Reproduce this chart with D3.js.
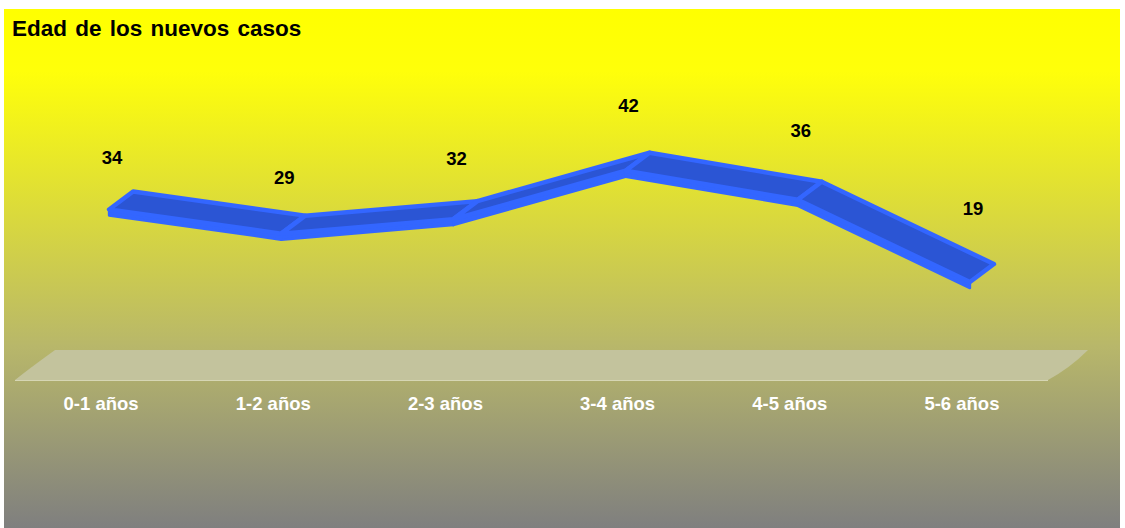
<!DOCTYPE html>
<html>
<head>
<meta charset="utf-8">
<script src="https://cdn.jsdelivr.net/npm/d3@7"></script>
<style>
  body { margin: 0; background: #fff; }
  svg { display: block; font-family: "Liberation Sans", Arial, sans-serif; }
</style>
</head>
<body>
<svg></svg>
<script>
const width = 1125;
const height = 528;

const title = "Edad de los nuevos casos";
const categories = ["0-1 años", "1-2 años", "2-3 años", "3-4 años", "4-5 años", "5-6 años"];
const values = [34, 29, 32, 42, 36, 19];

const svg = d3.select("svg")
  .attr("width", width)
  .attr("height", height);

// background gradient
const defs = svg.append("defs");
const grad = defs.append("linearGradient")
  .attr("id", "bg")
  .attr("x1", 0).attr("y1", 0).attr("x2", 0).attr("y2", 1);
grad.append("stop").attr("offset", 0).attr("stop-color", "#ffff00");
grad.append("stop").attr("offset", 0.12).attr("stop-color", "#ffff0a");
grad.append("stop").attr("offset", 0.65).attr("stop-color", "#b8b76a");
grad.append("stop").attr("offset", 1).attr("stop-color", "#7f7f7f");

svg.append("rect")
  .attr("x", 4).attr("y", 9)
  .attr("width", 1116).attr("height", 519)
  .attr("fill", "url(#bg)");

svg.append("text")
  .attr("x", 12).attr("y", 36)
  .attr("font-size", 22.5)
  .attr("font-weight", "bold")
  .attr("word-spacing", 2)
  .attr("fill", "#000")
  .text(title);

// 3D geometry
const floorY = 380;
const depth = [40, -30]; // full depth offset of the floor

const x = d3.scaleBand()
  .domain(categories)
  .range([15, 1048]);

const y = d3.scaleLinear()
  .domain([0, 50])
  .range([floorY, floorY - 242]);

// floor
const floor = d3.path();
floor.moveTo(15, floorY);
floor.lineTo(1048, floorY);
floor.quadraticCurveTo(1070, floorY - 12, 1088, floorY + depth[1]);
floor.lineTo(15 + depth[0], floorY + depth[1]);
floor.quadraticCurveTo(30, floorY - 12, 15, floorY);
floor.closePath();

svg.append("path")
  .attr("d", floor.toString())
  .attr("fill", "#c3c39d");

svg.append("line")
  .attr("x1", 15).attr("x2", 1048)
  .attr("y1", floorY + 0.5).attr("y2", floorY + 0.5)
  .attr("stroke", "#d6d6b4")
  .attr("stroke-width", 1);

// ribbon
const d0 = 0.2, d1 = 0.8;
const cx = c => x(c) + x.bandwidth() / 2;
const pts = values.map((v, i) => {
  const px = cx(categories[i]);
  const py = y(v);
  return {
    fx: px + depth[0] * d0, fy: py + depth[1] * d0,
    bx: px + depth[0] * d1, by: py + depth[1] * d1
  };
});

const thick = 6;
const ribbon = svg.append("g");
d3.pairs(pts).forEach(([a, b]) => {
  ribbon.append("path")
    .attr("d", `M${a.fx},${a.fy}L${b.fx},${b.fy}L${b.fx},${b.fy + thick}L${a.fx},${a.fy + thick}Z`)
    .attr("fill", "#3366ff")
    .attr("stroke", "#3366ff")
    .attr("stroke-width", 2.5)
    .attr("stroke-linejoin", "round");
  ribbon.append("path")
    .attr("d", `M${a.fx},${a.fy}L${b.fx},${b.fy}L${b.bx},${b.by}L${a.bx},${a.by}Z`)
    .attr("fill", "#2b55d4")
    .attr("stroke", "#3366ff")
    .attr("stroke-width", 4.5)
    .attr("stroke-linejoin", "round");
});

// data labels
svg.append("g")
  .selectAll("text")
  .data(values)
  .join("text")
  .attr("x", (d, i) => cx(categories[i]) + 11)
  .attr("y", (d, i) => y(d) + depth[1] * d0 - 45 - i * 4.5)
  .attr("text-anchor", "middle")
  .attr("font-size", 18.5)
  .attr("font-weight", "bold")
  .attr("fill", "#000")
  .text(d => d);

// category labels
svg.append("g")
  .selectAll("text")
  .data(categories)
  .join("text")
  .attr("x", d => cx(d))
  .attr("y", 410)
  .attr("text-anchor", "middle")
  .attr("font-size", 18.5)
  .attr("font-weight", "bold")
  .attr("fill", "#fff")
  .text(d => d);
</script>
</body>
</html>
